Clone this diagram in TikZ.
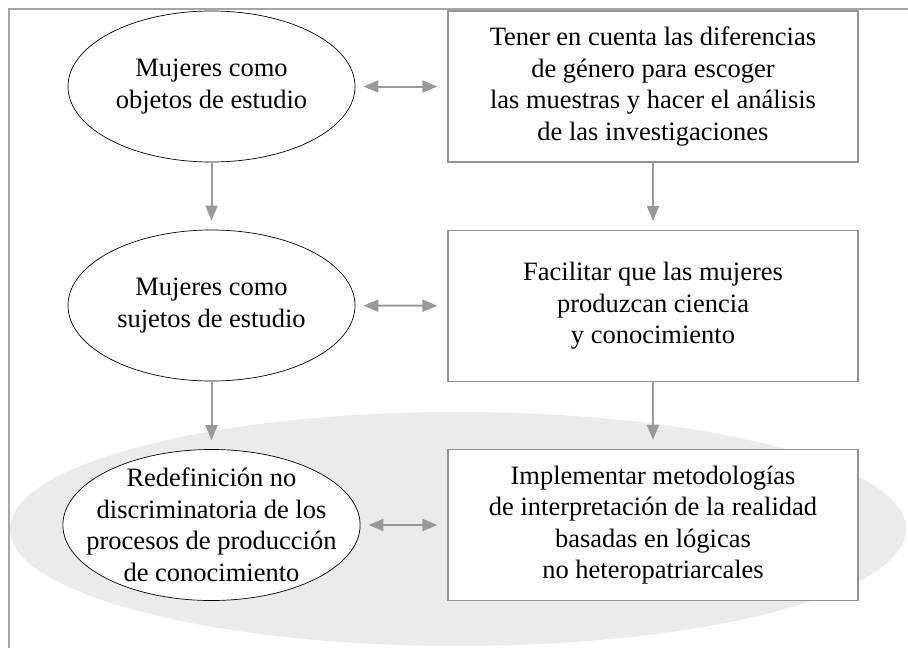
\documentclass[tikz,border=0pt]{standalone}
\usepackage{fontspec}
\setmainfont{Liberation Serif}
\usetikzlibrary{shapes,arrows.meta}
\tikzset {
    style A/.style={
        draw=black,
        line width=0.7pt,
        ellipse, % Set the shape as an ellipse
        minimum width=287pt,
        minimum height=151pt,
        inner sep=-20pt,
        align=center,
    },
    style B/.style={
        draw=black!42,
        line width=1.2pt,
        rectangle, % Set the shape as a rectangle
        minimum width=410pt,
        minimum height=151pt,
        align=center,
    },
    style C/.style={
        draw=black!40,
        line width=2pt,
        -{Triangle[length=15pt,width=12pt]},
        shorten >=9pt,
    },
    style D/.style={
        draw=black!40,
        line width=2pt,
        {Triangle[length=15pt,width=12pt]}-{Triangle[length=15pt,width=12pt]},
        shorten <=8pt,
        shorten >=10pt,
    },
}
\begin{document}
\begin{tikzpicture}
        [x=1pt, y=-1pt, font=\fontsize{26.5}{31.5}\selectfont]

        \useasboundingbox (0,0) rectangle (908,648);
        \fill[black!8] (458,529) ellipse [x radius=448, y radius=117];
        \draw[black!35, line width=1.3pt] (9,648) -- (9,9) -- (908,9);

        \node[style A] at (211.5, 86.5) (objetos) {Mujeres como\\objetos de estudio};
        \node[style A] at (211.5, 305.5) (sujetos) {Mujeres como\\sujetos de estudio};
        \node[style A, fill=white] at (211.5, 525) (redef) {Redefinición no\\discriminatoria de los\\procesos de producción\\de conocimiento};

        \node[style B, fill=white] at (653, 86.5) (genero) {Tener en cuenta las diferencias\\de género para escoger\\las muestras y hacer el análisis\\de las investigaciones};
        \node[style B] at (653, 306) (ciencia) {Facilitar que las mujeres\\produzcan ciencia\\y conocimiento};
        \node[style B, fill=white] at (653, 525) (metodo) {Implementar metodologías\\de interpretación de la realidad\\basadas en lógicas\\no heteropatriarcales};

        \draw[style C] (objetos) -- (sujetos);
        \draw[style C] (sujetos) -- (redef);
        \draw[style C] (genero) -- (ciencia);
        \draw[style C] (ciencia) -- (metodo);
        \draw[style D] (objetos) -- (genero);
        \draw[style D] (sujetos) -- (ciencia);
        \draw[style D] (redef) -- (metodo);
    \end{tikzpicture}
\end{document}
